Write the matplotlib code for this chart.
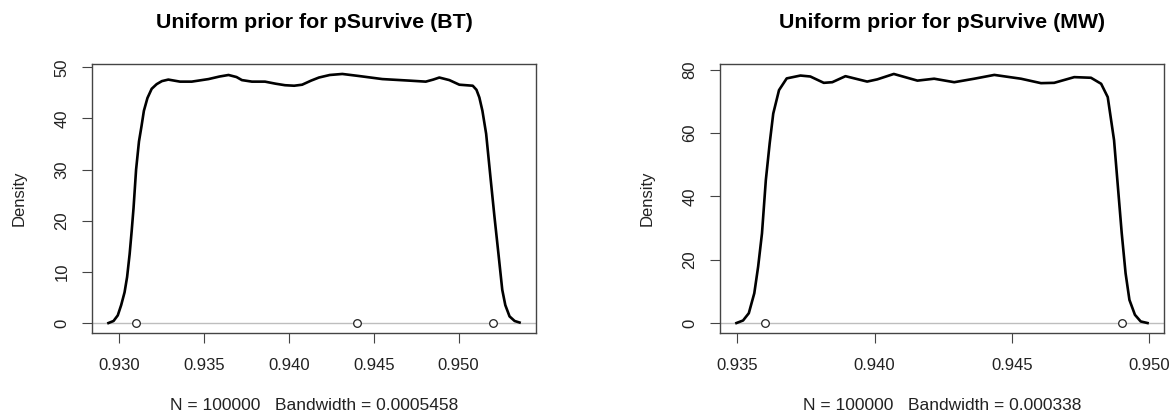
import numpy as np
import matplotlib.pyplot as plt

plt.rcParams['font.family'] = ['Liberation Sans', 'DejaVu Sans']

# density curve
bt_x = [0.92935, 0.92965, 0.92990, 0.93010, 0.93030, 0.93045, 0.93060, 0.93072,
        0.93083, 0.93098, 0.93115, 0.93130, 0.93144, 0.93165, 0.93190, 0.93219,
        0.93250, 0.93288, 0.93357, 0.93426, 0.93525, 0.93590, 0.93643, 0.93690,
        0.93722, 0.93781, 0.93858, 0.93920, 0.93976, 0.94030, 0.94077, 0.94130,
        0.94176, 0.94240, 0.94314, 0.94412, 0.94550, 0.94708, 0.94806, 0.94850,
        0.94886, 0.94945, 0.95004, 0.95083, 0.95105, 0.95122, 0.95140, 0.95162,
        0.95189, 0.95211, 0.95234, 0.95257, 0.95275, 0.95300, 0.95330, 0.95359]
bt_y = [0.0, 0.4, 1.5, 3.5, 6.0, 9.0, 13.5, 18.0,
        22.5, 30.0, 35.5, 38.5, 41.5, 44.0, 45.8, 46.7,
        47.3, 47.6, 47.2, 47.2, 47.7, 48.2, 48.5, 48.1,
        47.5, 47.2, 47.2, 46.8, 46.5, 46.4, 46.6, 47.4,
        48.0, 48.5, 48.7, 48.3, 47.7, 47.4, 47.2, 47.6,
        48.0, 47.5, 46.6, 46.4, 45.6, 44.1, 41.5, 37.0,
        28.0, 20.8, 13.7, 6.5, 3.5, 1.3, 0.4, 0.1]
bt_pts = [0.931, 0.944, 0.952]

# density curve
mw_x = [0.93497, 0.93521, 0.93542, 0.93562, 0.93576, 0.93590, 0.93604, 0.93618,
        0.93631, 0.93652, 0.93680, 0.93730, 0.93766, 0.93815, 0.93846, 0.93894,
        0.93973, 0.94010, 0.94070, 0.94156, 0.94217, 0.94290, 0.94363, 0.94436,
        0.94533, 0.94606, 0.94654, 0.94727, 0.94788, 0.94825, 0.94849, 0.94872,
        0.94886, 0.94900, 0.94914, 0.94928, 0.94948, 0.94969, 0.94994]
mw_y = [0.0, 0.8, 3.1, 9.4, 17.8, 28.3, 45.1, 56.7,
        66.1, 73.5, 77.2, 78.1, 77.8, 75.8, 76.0, 77.9,
        76.2, 76.9, 78.6, 76.5, 77.1, 76.0, 77.1, 78.3,
        77.1, 75.7, 75.8, 77.6, 77.4, 75.5, 71.3, 57.7,
        43.0, 28.3, 15.7, 7.3, 2.6, 0.5, 0.0]
mw_pts = [0.936, 0.949]

panels = [
    ("Uniform prior for pSurvive (BT)", bt_x, bt_y, bt_pts,
     [0.930, 0.935, 0.940, 0.945, 0.950], [0, 10, 20, 30, 40, 50],
     "N = 100000   Bandwidth = 0.0005458"),
    ("Uniform prior for pSurvive (MW)", mw_x, mw_y, mw_pts,
     [0.935, 0.940, 0.945, 0.950], [0, 20, 40, 60, 80],
     "N = 100000   Bandwidth = 0.000338"),
]

W, H = 1173, 420
fig = plt.figure(figsize=(W / 100, H / 100), dpi=100)
lefts = [92, 720]

for left, (title, x, y, pts, xt, yt, sub) in zip(lefts, panels):
    ax = fig.add_axes([left / W, (H - 333) / H, 444 / W, (333 - 64) / H])
    x = np.array(x)
    y = np.array(y)
    ax.axhline(0, color='#bebebe', lw=1, zorder=1)
    ax.plot(x, y, color='black', lw=1.9, zorder=3, solid_joinstyle='round')
    ax.plot(pts, np.zeros(len(pts)), 'o', mfc='white', mec='#222222',
            ms=5.5, mew=0.9, zorder=4)
    xr = x.max() - x.min()
    ax.set_xlim(x.min() - 0.04 * xr, x.max() + 0.04 * xr)
    yr = y.max() - y.min()
    ax.set_ylim(y.min() - 0.04 * yr, y.max() + 0.04 * yr)
    ax.set_xticks(xt)
    ax.set_xticklabels(["%.3f" % v for v in xt])
    ax.set_yticks(yt)
    ax.set_yticklabels([str(v) for v in yt], rotation=90, va='center')
    for s in ax.spines.values():
        s.set_color('#444444')
        s.set_linewidth(1)
    ax.tick_params(direction='out', length=7.2, width=0.8, color='#444444',
                   labelsize=12, labelcolor='#222222')
    ax.tick_params(axis='x', pad=11)
    ax.tick_params(axis='y', pad=9)

    cx = (left + 222) / W
    fig.text(cx, 1 - 22 / H, title, ha='center', va='center',
             fontsize=15.4, fontweight='bold')
    fig.text(cx, 1 - 406 / H, sub, ha='center', va='center',
             fontsize=12.5, color='#222222')
    fig.text((left - 73) / W, 1 - 198 / H, "Density", rotation=90,
             ha='center', va='center', fontsize=12, color='#222222')

fig.savefig("out.png", dpi=100)
